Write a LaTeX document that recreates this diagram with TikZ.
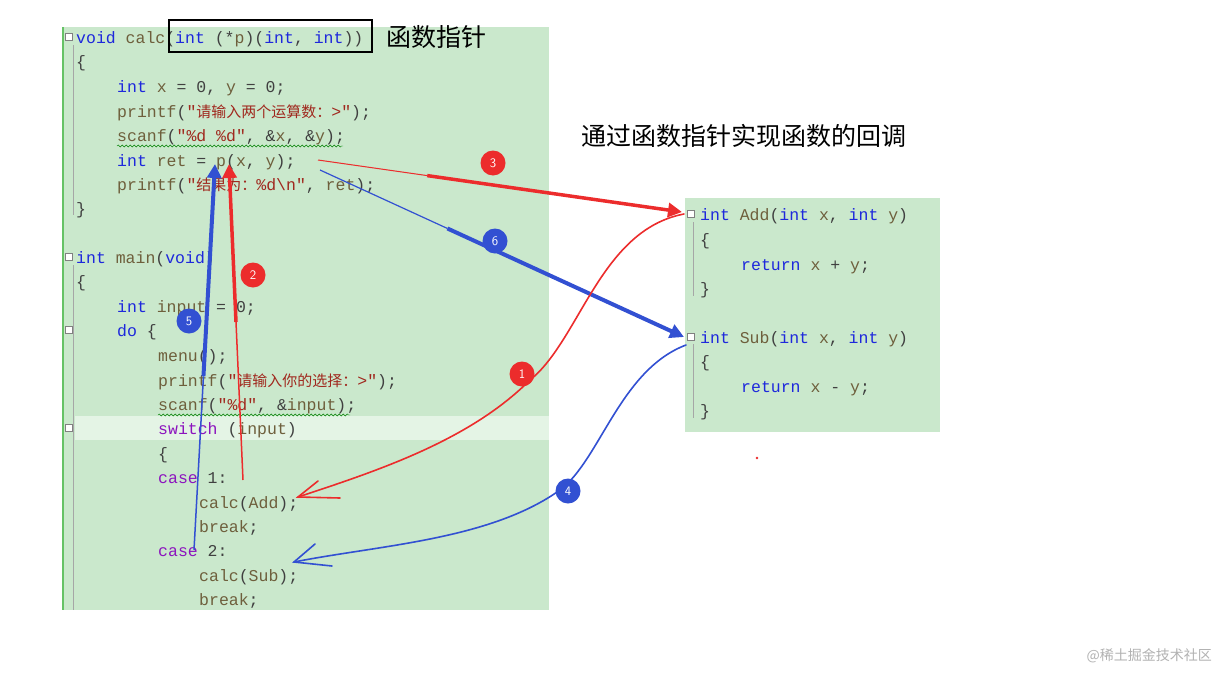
\documentclass[tikz,border=0pt]{standalone}
\usepackage{fontspec}
\setmainfont{Liberation Sans}
\setmonofont{Liberation Mono}
\newfontfamily\cjk{Noto Sans CJK SC}
\usetikzlibrary{arrows.meta,calc,decorations.pathmorphing}
\definecolor{bg}{RGB}{202,232,204}
\definecolor{kw}{RGB}{30,40,220}
\definecolor{idf}{RGB}{110,95,60}
\definecolor{str}{RGB}{160,40,30}
\definecolor{pur}{RGB}{140,20,190}
\definecolor{rd}{RGB}{236,44,44}
\definecolor{bl}{RGB}{50,80,210}
\newcommand{\K}[1]{\textcolor{kw}{#1}}
\newcommand{\I}[1]{\textcolor{idf}{#1}}
\newcommand{\Sx}[1]{\textcolor{str}{#1}}
\newcommand{\Pu}[1]{\textcolor{pur}{#1}}
\newcommand{\Z}[1]{{\cjk\fontsize{15pt}{15pt}\selectfont #1}}
\begin{document}
\begin{tikzpicture}[x=1pt,y=-1pt,
  code/.style={anchor=base west,inner sep=0,font=\ttfamily\fontsize{16.5pt}{18pt}\selectfont,text=black!75},
  num/.style={circle,inner sep=0,minimum size=25pt,text=white,font=\sffamily\fontsize{13pt}{13pt}\selectfont},
  fold/.style={draw=gray,line width=0.5pt,minimum size=7pt,inner sep=0,fill=white},
  redarr/.style={rd,line width=3.5pt,-{Triangle[length=14pt,width=14pt]}},
  bluarr/.style={bl,line width=4pt,-{Triangle[length=14pt,width=14pt]}},
  hand/.style={line width=1.6pt,line cap=round}]
\useasboundingbox (0,0) rectangle (1226,672);
\fill[white] (0,0) rectangle (1226,672);
% code panel
\fill[bg] (62,27) rectangle (549,610);
\fill[bg!50!white] (75,416) rectangle (549,440);
\draw[green!60!black!60,line width=1.5pt] (63,27) -- (63,610);
\draw[gray!70,line width=0.6pt] (73,45) -- (73,215) (73,265) -- (73,610);
\node[fold] (f1) at (69,37) {};
\node[fold] (f2) at (69,257) {};
\node[fold] (f3) at (69,330) {};
\node[fold] (f4) at (69,428) {};
\node[code] (l1) at (76,43) {\K{void} \I{calc}(\K{int} (*\I{p})(\K{int}, \K{int}))};
\node[code] (l2) at (76,67) {\{};
\node[code] (l3) at (117,92) {\K{int} \I{x} = 0, \I{y} = 0;};
\node[code] (l4) at (117,117) {\I{printf}(\Sx{"\Z{请输入两个运算数：}>"});};
\node[code] (l5) at (117,141) {\I{scanf}(\Sx{"\%d \%d"}, \&\I{x}, \&\I{y});};
\node[code] (l6) at (117,166) {\K{int} \I{ret} = \I{p}(\I{x}, \I{y});};
\node[code] (l7) at (117,190) {\I{printf}(\Sx{"\Z{结果为：}\%d\textbackslash n"}, \I{ret});};
\node[code] (l8) at (76,214) {\}};
\node[code] (l9) at (76,263) {\K{int} \I{main}(\K{void})};
\node[code] (l10) at (76,287) {\{};
\node[code] (l11) at (117,312) {\K{int} \I{input} = 0;};
\node[code] (l12) at (117,336) {\K{do} \{};
\node[code] (l13) at (158,361) {\I{menu}();};
\node[code] (l14) at (158,386) {\I{printf}(\Sx{"\Z{请输入你的选择：}>"});};
\node[code] (l15) at (158,410) {\I{scanf}(\Sx{"\%d"}, \&\I{input});};
\node[code] (l16) at (158,434) {\Pu{switch} (\I{input})};
\node[code] (l17) at (158,459) {\{};
\node[code] (l18) at (158,483) {\Pu{case} 1:};
\node[code] (l19) at (199,508) {\I{calc}(\I{Add});};
\node[code] (l20) at (199,532) {\I{break};};
\node[code] (l21) at (158,556) {\Pu{case} 2:};
\node[code] (l22) at (199,581) {\I{calc}(\I{Sub});};
\node[code] (l23) at (199,605) {\I{break};};
\draw[green!50!black,decorate,decoration={snake,amplitude=1pt,segment length=4pt}] (117,146) -- (343,146);
\draw[green!50!black,decorate,decoration={snake,amplitude=1pt,segment length=4pt}] (158,415) -- (350,415);
\draw[black,line width=2pt] (169,20) rectangle (372,52);
\node[anchor=west,inner sep=0,font=\cjk\fontsize{25pt}{25pt}\selectfont] (t1) at (386,37) {函数指针};
\node[anchor=west,inner sep=0,font=\cjk\fontsize{25pt}{25pt}\selectfont] (t2) at (581,136) {通过函数指针实现函数的回调};
% right panel
\fill[bg] (685,198) rectangle (940,432);
\draw[gray!70,line width=0.6pt] (693,222) -- (693,296) (693,344) -- (693,418);
\node[fold] (f5) at (691,214) {};
\node[fold] (f6) at (691,337) {};
\node[code] (a1) at (700,220) {\K{int} \I{Add}(\K{int} \I{x}, \K{int} \I{y})};
\node[code] (a2) at (700,245) {\{};
\node[code] (a3) at (741,270) {\K{return} \I{x} + \I{y};};
\node[code] (a4) at (700,294) {\}};
\node[code] (s1) at (700,343) {\K{int} \I{Sub}(\K{int} \I{x}, \K{int} \I{y})};
\node[code] (s2) at (700,367) {\{};
\node[code] (s3) at (741,392) {\K{return} \I{x} - \I{y};};
\node[code] (s4) at (700,416) {\}};
% anchor coordinates
\coordinate (p3s) at (318,160); \coordinate (p3e) at (682,212);
\coordinate (p6s) at (320,170); \coordinate (p6e) at (684,337);
\coordinate (p2s) at (243,480); \coordinate (p2e) at (229,164);
\coordinate (p5s) at (194,550); \coordinate (p5e) at (215,164);
% straight arrows
\draw[rd,line width=1pt] (p3s) -- ($(p3s)!0.3!(p3e)$);
\draw[redarr] ($(p3s)!0.3!(p3e)$) -- (p3e);
\draw[bl,line width=1.2pt] (p6s) -- ($(p6s)!0.35!(p6e)$);
\draw[bluarr] ($(p6s)!0.35!(p6e)$) -- (p6e);
\draw[rd,line width=1.5pt] (p2s) -- ($(p2s)!0.5!(p2e)$);
\draw[redarr] ($(p2s)!0.5!(p2e)$) -- (p2e);
\draw[bl,line width=1.5pt] (p5s) -- ($(p5s)!0.45!(p5e)$);
\draw[bluarr] ($(p5s)!0.45!(p5e)$) -- (p5e);
% hand-drawn curves
\coordinate (c1s) at (684,214); \coordinate (c1e) at (298,497);
\draw[hand,rd] (c1s) .. controls (600,230) and (580,340) .. (530,380) .. controls (470,440) and (380,470) .. (c1e);
\draw[hand,rd] (318,481) -- (c1e) -- (340,498);
\coordinate (c4s) at (686,345); \coordinate (c4e) at (294,562);
\draw[hand,bl] (c4s) .. controls (620,370) and (600,460) .. (560,490) .. controls (490,540) and (380,545) .. (c4e);
\draw[hand,bl] (315,544) -- (c4e) -- (332,566);
\fill[rd] (757,458) circle (1.3pt);
% number badges
\node[num,fill=rd] (n3) at (493,163) {3};
\node[num,fill=bl] (n6) at (495,241) {6};
\node[num,fill=rd] (n2) at (253,275) {2};
\node[num,fill=bl] (n5) at (189,321) {5};
\node[num,fill=rd] (n1) at (522,374) {1};
\node[num,fill=bl] (n4) at (568,491) {4};
\node[anchor=east,inner sep=0,text=gray!60,font=\cjk\fontsize{14pt}{14pt}\selectfont] (wm) at (1212,656) {@稀土掘金技术社区};
\end{tikzpicture}
\end{document}
